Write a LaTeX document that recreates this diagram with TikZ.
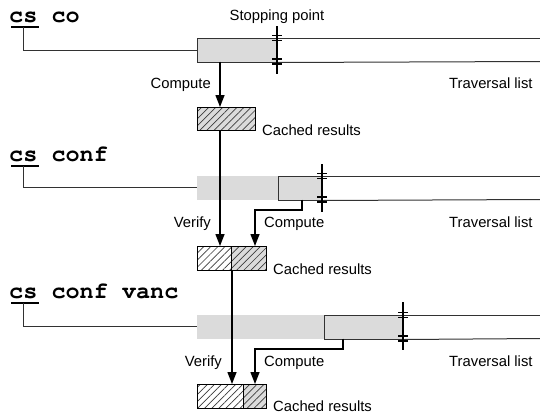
\documentclass[tikz,border=0pt]{standalone}
\usepackage{fontspec}
\setmainfont{Liberation Sans}
\newfontfamily\codefont{texgyrecursor-bold.otf}
\usetikzlibrary{arrows.meta,patterns.meta}
\definecolor{bandgrey}{RGB}{219,219,219}
\definecolor{edge}{RGB}{50,50,50}
\definecolor{hatch}{RGB}{60,60,60}
\begin{document}
\begin{tikzpicture}[x=1pt,y=-1pt,
  lbl/.style={font=\fontsize{14.8}{16}\selectfont, inner sep=0},
  code/.style={font=\codefont\fontsize{23.5}{26}\selectfont, inner sep=0, anchor=base west},
  uline/.style={draw=black, line width=1.8pt},
  rail/.style={draw=edge, line width=1pt},
  donebox/.style={rectangle, draw=edge, fill=bandgrey, line width=1pt, inner sep=0,
    anchor=north west, minimum height=23.5pt},
  shadebox/.style={rectangle, fill=bandgrey, inner sep=0, anchor=north west, minimum height=23.5pt},
  hatchbox/.style={rectangle, draw=black, line width=1pt, inner sep=0, anchor=north west,
    minimum height=23.5pt, pattern={Lines[angle=45,distance=5pt,line width=0.7pt]}, pattern color=hatch},
  oldpart/.style={hatchbox, preaction={fill=white}},
  newpart/.style={hatchbox, preaction={fill=bandgrey}},
  flow/.style={draw=black, line width=1.4pt, -{Triangle[length=12pt,width=9pt]}},
  stopbar/.style={draw=black, line width=2.4pt},
  tick/.style={draw=black, line width=1.6pt},
]
\useasboundingbox (0,0) rectangle (540,415);

% ---------------- first query: cs co ----------------
\node[code] (t1) at (9,22) {cs co};
\coordinate (u1a) at (11,27); \coordinate (u1b) at (39,27); \coordinate (s1) at (23,27);
\draw[uline] (u1a) -- (u1b);
\node[donebox, minimum width=80pt] (d1) at (197,38) {};
\coordinate (e1t) at (540,38); \coordinate (e1b) at (540,61.5);
\draw[rail] (d1.north east) -- (e1t);
\draw[rail] (d1.south east) -- (e1b);
\draw[rail] (s1) |- (d1.west);
\coordinate (p1t) at (277,26); \coordinate (p1b) at (277,74);
\draw[stopbar] (p1t) -- (p1b);
\foreach \yy in {35.6,40.4,59.1,63.9} \draw[tick] (272,\yy) -- (282,\yy);
\node[lbl, anchor=base] (sp) at (277,20) {Stopping point};
\node[newpart, minimum width=58pt] (h1) at (197,107) {};
\coordinate (c1o) at (220,61.5);
\draw[flow] (c1o) -- (h1.north -| c1o);
\node[lbl, anchor=base east] (cmp1) at (211,88) {Compute};
\node[lbl, anchor=base west] (tl1) at (449,88) {Traversal list};
\node[lbl, anchor=base west] (cr1) at (262,135) {Cached results};

% ---------------- second query: cs conf ----------------
\node[code] (t2) at (9,161) {cs conf};
\coordinate (u2a) at (11,166); \coordinate (u2b) at (39,166); \coordinate (s2) at (23,166);
\draw[uline] (u2a) -- (u2b);
\node[shadebox, minimum width=81pt] (sh2) at (197,176) {};
\node[donebox, minimum width=44pt] (d2) at (278,176) {};
\coordinate (e2t) at (540,176); \coordinate (e2b) at (540,199.5);
\draw[rail] (d2.north east) -- (e2t);
\draw[rail] (d2.south east) -- (e2b);
\draw[rail] (s2) |- (sh2.west);
\coordinate (p2t) at (322,164); \coordinate (p2b) at (322,212);
\draw[stopbar] (p2t) -- (p2b);
\foreach \yy in {173.6,178.4,197.1,201.9} \draw[tick] (317,\yy) -- (327,\yy);
\node[oldpart, minimum width=34pt] (h2a) at (197,246) {};
\node[newpart, minimum width=35pt] (h2b) at (231,246) {};
\draw[flow] (h1.south -| c1o) -- (h2a.north -| c1o);
\coordinate (c2o) at (302,199.5); \coordinate (k2) at (255,210);
\draw[flow] (c2o) -- (c2o |- k2) -- (k2) -- (k2 |- h2b.north);
\node[lbl, anchor=base east] (vf2) at (211,227) {Verify};
\node[lbl, anchor=base west] (cmp2) at (264,227) {Compute};
\node[lbl, anchor=base west] (tl2) at (449,227) {Traversal list};
\node[lbl, anchor=base west] (cr2) at (273,274) {Cached results};

% ---------------- third query: cs conf vanc ----------------
\node[code] (t3) at (9,298) {cs conf vanc};
\coordinate (u3a) at (11,303); \coordinate (u3b) at (39,303); \coordinate (s3) at (23,303);
\draw[uline] (u3a) -- (u3b);
\node[shadebox, minimum width=127pt] (sh3) at (197,315) {};
\node[donebox, minimum width=79pt] (d3) at (324,315) {};
\coordinate (e3t) at (540,315); \coordinate (e3b) at (540,338.5);
\draw[rail] (d3.north east) -- (e3t);
\draw[rail] (d3.south east) -- (e3b);
\draw[rail] (s3) |- (sh3.west);
\coordinate (p3t) at (403,302); \coordinate (p3b) at (403,350);
\draw[stopbar] (p3t) -- (p3b);
\foreach \yy in {312.6,317.4,336.1,340.9} \draw[tick] (398,\yy) -- (408,\yy);
\node[oldpart, minimum width=46pt] (h3a) at (197,384) {};
\node[newpart, minimum width=23pt] (h3b) at (243,384) {};
\draw[flow] (h2a.south east) -- (h2a.south east |- h3a.north);
\coordinate (c3o) at (343,338.5); \coordinate (k3) at (255,349);
\draw[flow] (c3o) -- (c3o |- k3) -- (k3) -- (k3 |- h3b.north);
\node[lbl, anchor=base east] (vf3) at (222,366) {Verify};
\node[lbl, anchor=base west] (cmp3) at (264,366) {Compute};
\node[lbl, anchor=base west] (tl3) at (449,366) {Traversal list};
\node[lbl, anchor=base west] (cr3) at (273,411) {Cached results};
\end{tikzpicture}
\end{document}
